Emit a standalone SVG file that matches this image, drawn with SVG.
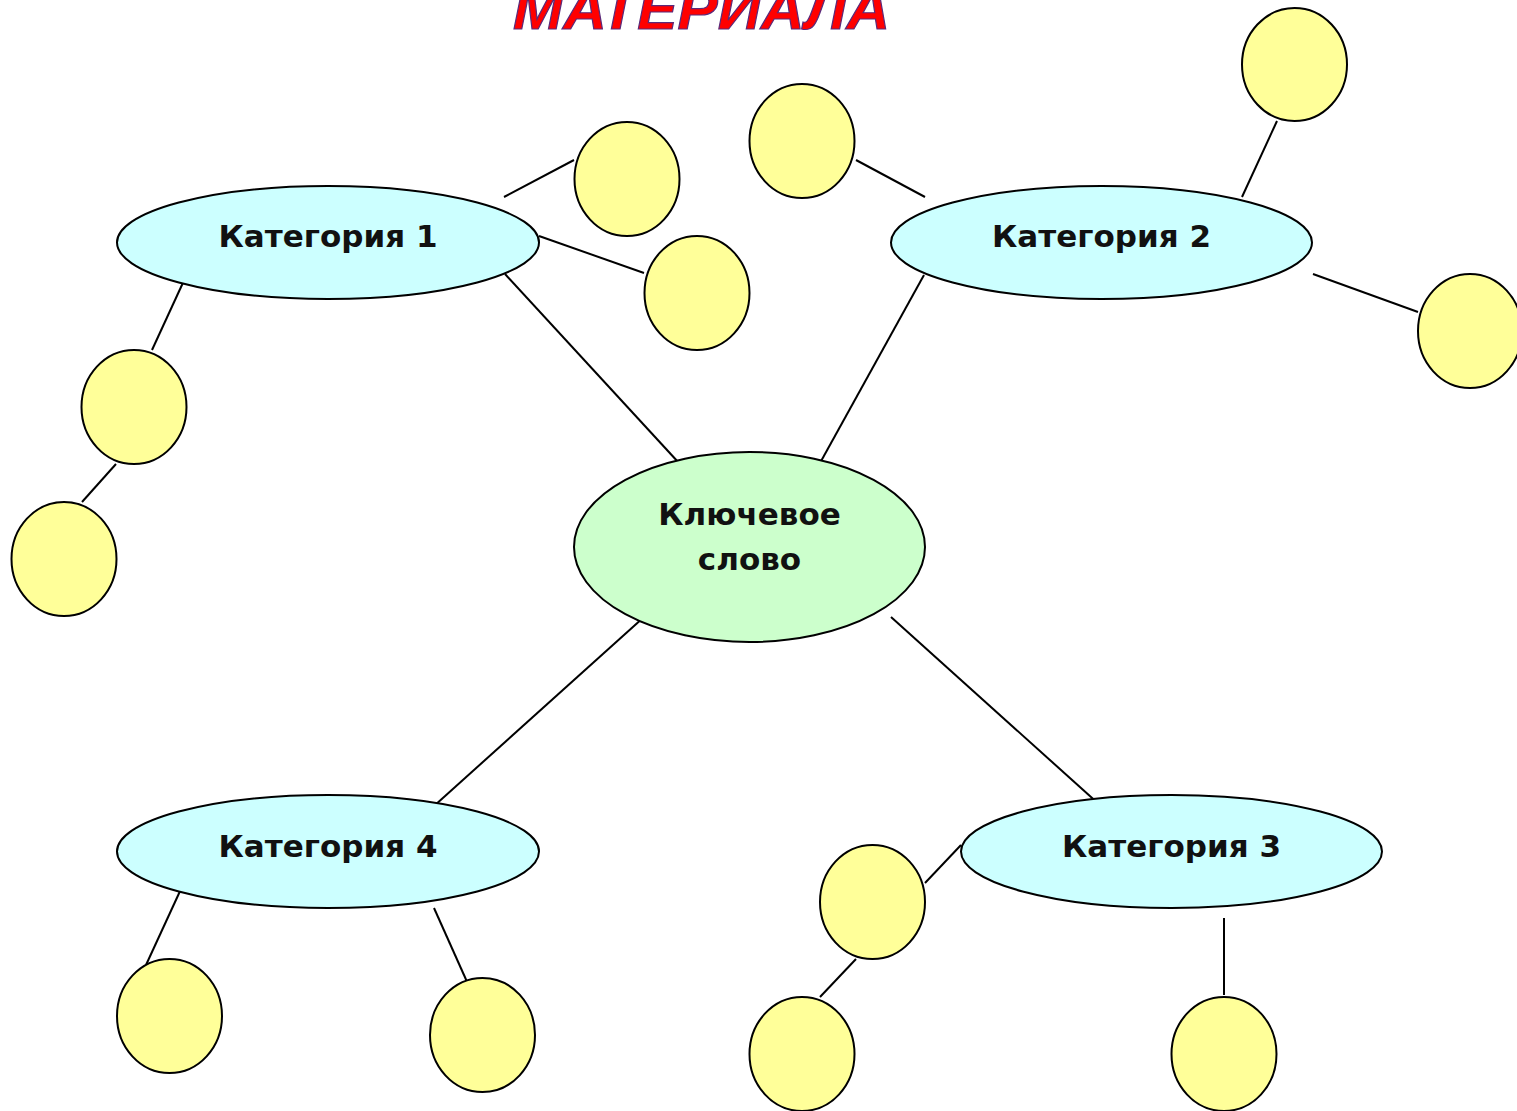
<svg xmlns="http://www.w3.org/2000/svg" width="1517" height="1111" viewBox="0 0 1517 1111">
<style>
.cat{fill:#CCFFFF;stroke:#000;stroke-width:2}
.key{fill:#CCFFCC;stroke:#000;stroke-width:2}
.leaf{fill:#FFFF99;stroke:#000;stroke-width:2}
.lbl{font-family:"DejaVu Sans",sans-serif;font-weight:bold;font-size:31px;fill:#111;text-anchor:middle}
.title{font-family:"Liberation Sans",Arial,sans-serif;font-weight:bold;font-style:italic;font-size:58px;fill:#FF0000;stroke:#5a2a7a;stroke-width:1.2}
#connectors line{stroke:#000;stroke-width:2}
</style>
<rect width="1517" height="1111" fill="#fff"/>
<text class="title" x="513" y="29" textLength="377" lengthAdjust="spacingAndGlyphs">МАТЕРИАЛА</text>
<g id="connectors">
<line x1="504" y1="197" x2="574" y2="160"/>
<line x1="539" y1="236" x2="644" y2="273"/>
<line x1="187" y1="274" x2="152" y2="350"/>
<line x1="116" y1="464" x2="82" y2="502"/>
<line x1="505" y1="274" x2="679" y2="463"/>
<line x1="924" y1="275" x2="820" y2="463"/>
<line x1="856" y1="160" x2="925" y2="197"/>
<line x1="1277" y1="121" x2="1242" y2="197"/>
<line x1="1313" y1="274" x2="1418" y2="312"/>
<line x1="644" y1="617" x2="434" y2="806"/>
<line x1="891" y1="617" x2="1101" y2="806"/>
<line x1="181" y1="889" x2="146" y2="965"/>
<line x1="434" y1="908" x2="468" y2="984"/>
<line x1="961" y1="845" x2="925" y2="883"/>
<line x1="856" y1="959" x2="820" y2="997"/>
<line x1="1224" y1="918" x2="1224" y2="995"/>
</g>
<g id="key"><ellipse class="key" cx="749.5" cy="547" rx="175.5" ry="95"/><text class="lbl" x="749.5" y="525">Ключевое</text><text class="lbl" x="749.5" y="570">слово</text></g>
<g id="cat1"><ellipse class="cat" cx="328" cy="242.5" rx="211" ry="56.5"/><text class="lbl" x="328" y="247">Категория 1</text></g>
<g id="cat2"><ellipse class="cat" cx="1101.5" cy="242.5" rx="210.5" ry="56.5"/><text class="lbl" x="1101.5" y="247">Категория 2</text></g>
<g id="cat3"><ellipse class="cat" cx="1171.5" cy="851.5" rx="210.5" ry="56.5"/><text class="lbl" x="1171.5" y="857">Категория 3</text></g>
<g id="cat4"><ellipse class="cat" cx="328" cy="851.5" rx="211" ry="56.5"/><text class="lbl" x="328" y="857">Категория 4</text></g>
<g id="leaf1"><ellipse class="leaf" cx="627" cy="179" rx="52.5" ry="57"/></g>
<g id="leaf2"><ellipse class="leaf" cx="697" cy="293" rx="52.5" ry="57"/></g>
<g id="leaf3"><ellipse class="leaf" cx="134" cy="407" rx="52.5" ry="57"/></g>
<g id="leaf4"><ellipse class="leaf" cx="64" cy="559" rx="52.5" ry="57"/></g>
<g id="leaf5"><ellipse class="leaf" cx="802" cy="141" rx="52.5" ry="57"/></g>
<g id="leaf6"><ellipse class="leaf" cx="1294.5" cy="64.5" rx="52.5" ry="56.5"/></g>
<g id="leaf7"><ellipse class="leaf" cx="1470" cy="331" rx="52" ry="57"/></g>
<g id="leaf8"><ellipse class="leaf" cx="872.5" cy="902" rx="52.5" ry="57"/></g>
<g id="leaf9"><ellipse class="leaf" cx="802" cy="1054" rx="52.5" ry="57"/></g>
<g id="leaf10"><ellipse class="leaf" cx="1224" cy="1054" rx="52.5" ry="57"/></g>
<g id="leaf11"><ellipse class="leaf" cx="169.5" cy="1016" rx="52.5" ry="57"/></g>
<g id="leaf12"><ellipse class="leaf" cx="482.5" cy="1035" rx="52.5" ry="57"/></g>
</svg>
